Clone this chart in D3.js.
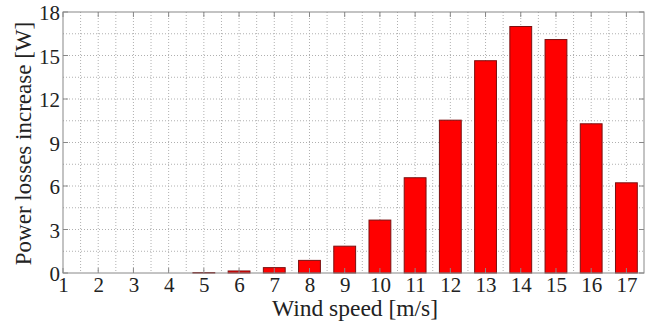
<!DOCTYPE html>
<html>
<head>
<meta charset="utf-8">
<script src="https://cdn.jsdelivr.net/npm/d3@7"></script>
<style>
  body { margin: 0; background: #fff; }
  .grid line { stroke: #b0b0b0; stroke-dasharray: 1,2; stroke-width: 1; }
  .frame { fill: none; stroke: #888; stroke-width: 1; }
  .tick-mark { stroke: #888; stroke-width: 1; }
  .bar { fill: #ff0000; stroke: #7a1010; stroke-width: 1; }
</style>
</head>
<body>
<script>
var windSpeeds = [1, 2, 3, 4, 5, 6, 7, 8, 9, 10, 11, 12, 13, 14, 15, 16, 17];
var lossIncrease = [0, 0, 0, 0, 0.03, 0.14, 0.37, 0.87, 1.85, 3.65, 6.57, 10.54, 14.64, 17.0, 16.1, 10.29, 6.22];
var yTicks = [0, 3, 6, 9, 12, 15, 18];

var serif = "'Liberation Serif'";

var width = 653,
    height = 325,
    margin = {top: 12, right: 9, bottom: 52, left: 63},
    barWidth = 0.62;

var innerW = width - margin.left - margin.right,
    innerH = height - margin.top - margin.bottom;

var svg = d3.select('body')
  .append('svg')
    .attr('width', width)
    .attr('height', height);

var g = svg.append('g')
    .attr('transform', 'translate(' + margin.left + ',' + margin.top + ')');

var x = d3.scaleLinear().domain([1, 17.5]).range([0, innerW]);
var y = d3.scaleLinear().domain([0, 18]).range([innerH, 0]);

// grid, major and minor (every half step)
var xGrid = d3.range(1.5, 17.5, 0.5);
var yGrid = d3.range(1.5, 18, 1.5);

var grid = g.append('g').attr('class', 'grid');
grid.selectAll('line.v').data(xGrid).enter().append('line')
    .attr('class', 'v')
    .attr('x1', function(d) { return x(d); })
    .attr('x2', function(d) { return x(d); })
    .attr('y1', 0)
    .attr('y2', innerH);
grid.selectAll('line.h').data(yGrid).enter().append('line')
    .attr('class', 'h')
    .attr('x1', 0)
    .attr('x2', innerW)
    .attr('y1', function(d) { return y(d); })
    .attr('y2', function(d) { return y(d); });

// bars
g.selectAll('rect.bar')
  .data(windSpeeds)
  .enter().append('rect')
    .attr('class', 'bar')
    .attr('x', function(d) { return x(d - barWidth / 2); })
    .attr('width', x(1 + barWidth) - x(1))
    .attr('y', function(d, i) { return y(lossIncrease[i]); })
    .attr('height', function(d, i) { return innerH - y(lossIncrease[i]); });

// frame
g.append('rect')
    .attr('class', 'frame')
    .attr('x', 0)
    .attr('y', 0)
    .attr('width', innerW)
    .attr('height', innerH);

// axes: labels only, inward tick marks drawn on all four sides
var xAxis = d3.axisBottom(x).tickValues(windSpeeds).tickFormat(d3.format('d')).tickSize(0).tickPadding(4);
var yAxis = d3.axisLeft(y).tickValues(yTicks).tickSize(0).tickPadding(3);

var gx = g.append('g')
    .attr('transform', 'translate(0,' + innerH + ')')
    .call(xAxis);
var gy = g.append('g').call(yAxis);

[gx, gy].forEach(function(a) {
  a.attr('font-family', null).attr('font-size', null);
  a.select('.domain').remove();
  a.selectAll('text')
      .style('font-family', serif)
      .style('font-size', '21px')
      .attr('fill', '#222');
});
gy.selectAll('text').attr('dy', '0.36em');

var tickLen = 5;
var marks = g.append('g');
windSpeeds.forEach(function(d) {
  marks.append('line').attr('class', 'tick-mark')
      .attr('x1', x(d)).attr('x2', x(d)).attr('y1', innerH).attr('y2', innerH - tickLen);
  marks.append('line').attr('class', 'tick-mark')
      .attr('x1', x(d)).attr('x2', x(d)).attr('y1', 0).attr('y2', tickLen);
});
yTicks.forEach(function(d) {
  marks.append('line').attr('class', 'tick-mark')
      .attr('x1', 0).attr('x2', tickLen).attr('y1', y(d)).attr('y2', y(d));
  marks.append('line').attr('class', 'tick-mark')
      .attr('x1', innerW).attr('x2', innerW - tickLen).attr('y1', y(d)).attr('y2', y(d));
});

// axis titles
svg.append('text')
    .attr('x', 355)
    .attr('y', height - 9)
    .attr('text-anchor', 'middle')
    .attr('fill', '#222')
    .style('font-family', serif)
    .style('font-size', '23.5px')
    .text('Wind speed [m/s]');

svg.append('text')
    .attr('transform', 'translate(31,143.5) rotate(-90)')
    .attr('text-anchor', 'middle')
    .attr('fill', '#222')
    .style('font-family', serif)
    .style('font-size', '23px')
    .text('Power losses increase [W]');
</script>
</body>
</html>
